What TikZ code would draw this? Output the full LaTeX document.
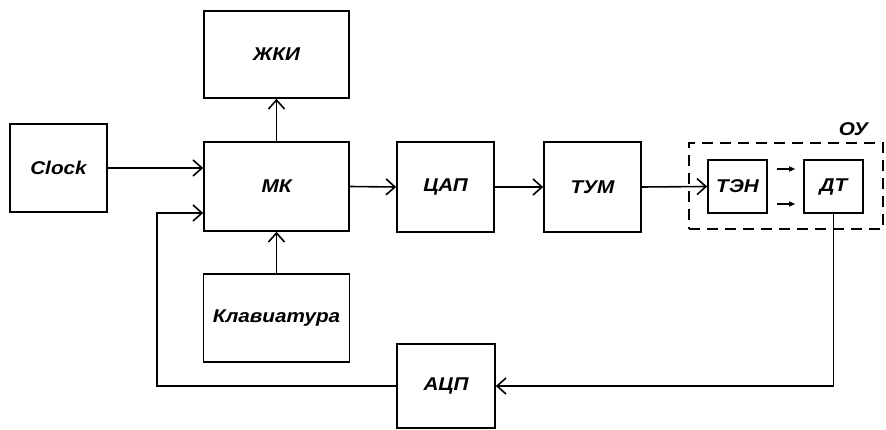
\documentclass[tikz,border=0pt]{standalone}
\usepackage{fontspec}
\setmainfont{Liberation Sans}
\newfontfamily\blockfont[FakeStretch=1.12]{Liberation Sans}
\usetikzlibrary{arrows.meta,positioning,calc}

\begin{document}
\begin{tikzpicture}[x=1pt,y=-1pt,line width=1.6pt,
  >={Straight Barb[length=9pt,width=16pt]},
  lbl/.style={font=\blockfont\bfseries\itshape\fontsize{18.5}{21}\selectfont},
  block/.style={lbl,draw,minimum width=#1,inner sep=1pt},
  small/.style={-{Triangle[length=6pt,width=5pt]},line width=1.2pt}]
  \useasboundingbox (0,0) rectangle (886,430);
  \node[block=97pt,minimum height=88pt] (clock) at (58.5,168) {Clock};
  \node[block=145pt,minimum height=87pt] (zhki) at (276.5,54.5) {ЖКИ};
  \node[block=145pt,minimum height=89pt] (mk) at (276.5,186.5) {МК};
  \node[block=146pt,minimum height=88pt] (klav) at (276.5,318) {Клавиатура};
  \node[block=97pt,minimum height=90pt] (cap) at (445.5,187) {ЦАП};
  \node[block=97pt,minimum height=90pt] (tum) at (592.5,187) {ТУМ};
  \node[draw,dash pattern=on 11pt off 7pt,line width=1.9pt,minimum width=194pt,minimum height=86pt] (ou) at (786,186) {};
  \node[lbl,anchor=south east] at ([xshift=-12pt,yshift=2pt]ou.north east) {ОУ};
  \node[block=59pt,minimum height=53pt] (ten) at (737.5,186.5) {ТЭН};
  \node[block=59pt,minimum height=53pt] (dt) at (833.5,186.5) {ДТ};
  \node[block=98pt,minimum height=84pt] (adc) at (446,386) {АЦП};
  \coordinate (fb) at (157,0);

  \draw[->] (clock.east) -- (clock.east -| mk.west);
  \draw[->] (mk.north) -- (zhki.south);
  \draw[->] (klav.north) -- (mk.south);
  \draw[->] (mk.east) -- (cap.west);
  \draw[->] (cap.east) -- (tum.west);
  \draw[->] (tum.east) -- (ten.west);
  \draw[small,shorten <=9pt,shorten >=8pt] ([yshift=17.5pt]ten.east) -- ([yshift=17.5pt]dt.west);
  \draw[small,shorten <=9pt,shorten >=8pt] ([yshift=-17.5pt]ten.east) -- ([yshift=-17.5pt]dt.west);
  \draw[->] (dt.south) |- (adc.east);
  \draw[->] (adc.west) -- (adc.west -| fb) |- ([yshift=-26.5pt]mk.west);
\end{tikzpicture}
\end{document}
